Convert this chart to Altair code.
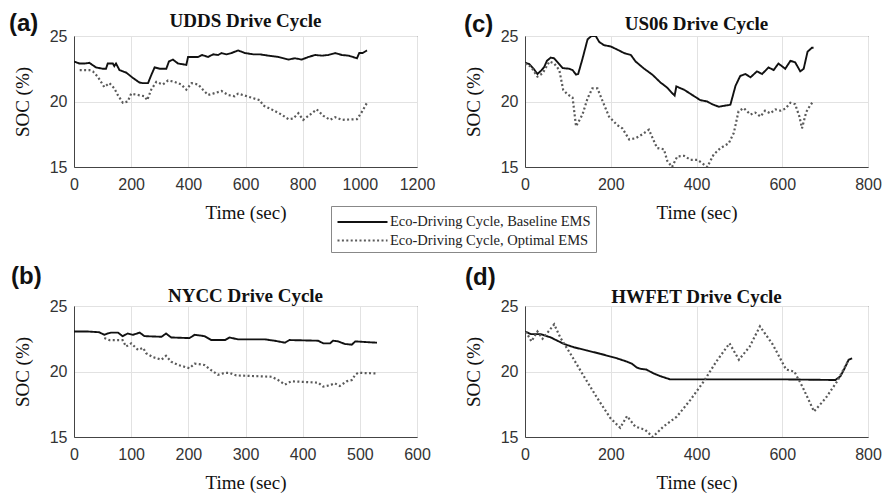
import altair as alt
import pandas as pd

SERIES = ["Eco-Driving Cycle, Baseline EMS", "Eco-Driving Cycle, Optimal EMS"]

# ---- UDDS ----
udds_base_t = [0, 19, 36, 54, 77, 101, 112, 118, 136, 141, 147, 159, 183, 206, 229, 241, 259, 270, 282, 300,
               323, 332, 346, 364, 393, 399, 422, 434, 448, 469, 487, 504, 516, 533, 551, 574, 598, 627, 650, 680,
               715, 750, 773, 797, 820, 844, 867, 890, 914, 937, 961, 990, 998, 1010, 1025]
udds_base_soc = [23.05, 22.9, 22.9, 22.95, 22.6, 22.5, 22.5, 22.9, 22.9, 22.7, 22.9, 22.4, 22.2, 21.8, 21.45,
                 21.4, 21.4, 22.0, 22.6, 22.5, 22.5, 23.05, 23.2, 22.9, 22.8, 23.4, 23.4, 23.4, 23.55, 23.4,
                 23.6, 23.55, 23.7, 23.6, 23.7, 23.9, 23.7, 23.6, 23.6, 23.5, 23.4, 23.2, 23.3, 23.2, 23.4,
                 23.55, 23.5, 23.55, 23.7, 23.55, 23.5, 23.3, 23.7, 23.7, 23.9]
udds_opt_t = [20, 54, 66, 83, 106, 124, 141, 153, 171, 188, 200, 223, 247, 256, 270, 288, 311, 329, 352, 375,
              393, 411, 434, 451, 469, 486, 516, 539, 562, 574, 598, 627, 650, 662, 691, 726, 750, 767, 785, 802,
              826, 849, 873, 896, 914, 937, 990, 1007, 1025]
udds_opt_soc = [22.4, 22.4, 22.3, 21.9, 21.1, 21.4, 21.0, 20.5, 19.9, 20.0, 20.6, 20.5, 20.4, 20.1, 20.9,
                21.5, 21.3, 21.6, 21.5, 21.3, 20.9, 21.4, 21.3, 20.9, 20.5, 20.6, 20.8, 20.5, 20.4, 20.6,
                20.45, 20.25, 20.1, 19.7, 19.4, 19.0, 18.65, 18.7, 19.1, 18.6, 19.0, 19.4, 18.9, 18.6, 18.8,
                18.6, 18.65, 19.2, 19.9]

# ---- US06 ----
us06_base_t = [0, 10, 20, 29, 39, 45, 51, 60, 68, 80, 88, 103, 111, 119, 124, 134, 146, 155, 165, 173,
               184, 200, 216, 231, 247, 258, 278, 297, 316, 332, 343, 349, 353, 371, 390, 409, 425, 436, 452, 460,
               479, 491, 502, 514, 526, 541, 553, 568, 580, 591, 607, 619, 630, 642, 650, 659, 669, 673]
us06_base_soc = [22.97, 22.85, 22.5, 22.1, 22.4, 22.65, 23.1, 23.35, 23.3, 22.85, 22.55, 22.5, 22.4, 22.05, 22.1,
                 23.25, 24.75, 25.0, 25.0, 24.55, 24.3, 24.2, 23.95, 23.7, 23.55, 23.05, 22.5, 22.05, 21.45, 21.05,
                 20.65, 20.45, 21.15, 20.9, 20.5, 20.1, 20.0, 19.8, 19.6, 19.65, 19.75, 21.2, 21.95, 22.1, 21.85,
                 22.3, 22.1, 22.6, 22.4, 22.9, 22.5, 23.1, 23.0, 22.3, 22.5, 23.8, 24.1, 24.1]
us06_opt_t = [0, 14, 29, 41, 57, 68, 80, 89, 99, 111, 119, 134, 146, 157, 169, 180, 196, 215, 227, 243,
              258, 274, 289, 299, 308, 324, 332, 343, 355, 371, 386, 402, 413, 425, 440, 456, 475, 487, 498, 510,
              526, 537, 549, 560, 572, 584, 596, 607, 619, 630, 640, 646, 656, 665, 671]
us06_opt_soc = [22.9, 22.65, 21.9, 22.15, 23.05, 22.9, 22.4, 20.9, 20.55, 20.3, 18.1, 19.0, 20.25, 21.0, 21.0,
                20.1, 18.85, 18.2, 17.95, 17.1, 17.2, 17.5, 17.85, 17.1, 16.45, 16.35, 15.45, 15.0, 15.8, 15.85,
                15.55, 15.55, 15.3, 15.0, 15.95, 16.45, 16.8, 17.6, 19.25, 19.5, 19.0, 19.15, 18.85, 19.3, 19.1,
                19.4, 19.3, 19.45, 19.9, 19.8, 18.85, 17.95, 19.2, 19.7, 19.95]

# ---- NYCC ----
nycc_base_t = [0, 24, 44, 53, 59, 65, 77, 85, 94, 103, 115, 123, 153, 161, 170, 202, 211, 228, 240, 264,
               272, 287, 334, 351, 369, 377, 427, 436, 448, 453, 462, 474, 486, 492, 509, 530]
nycc_base_soc = [23.05, 23.05, 23.0, 22.8, 22.9, 22.97, 22.97, 22.7, 22.9, 22.8, 22.97, 22.7, 22.65, 22.9, 22.6,
                 22.55, 22.8, 22.7, 22.4, 22.4, 22.6, 22.45, 22.45, 22.35, 22.2, 22.4, 22.35, 22.15, 22.15, 22.35,
                 22.3, 22.1, 22.05, 22.3, 22.25, 22.2]
nycc_opt_t = [53, 62, 85, 91, 100, 112, 121, 126, 138, 153, 161, 170, 182, 202, 211, 228, 240, 252, 264, 272,
              284, 346, 357, 369, 380, 427, 436, 448, 456, 465, 477, 486, 492, 497, 530]
nycc_opt_soc = [22.55, 22.4, 22.4, 21.9, 22.15, 21.65, 21.8, 21.4, 21.1, 20.9, 21.2, 20.75, 20.5, 20.25, 20.6,
                20.5, 20.1, 19.75, 19.9, 19.9, 19.7, 19.6, 19.35, 19.0, 19.25, 19.15, 18.85, 18.95, 19.1, 18.9,
                19.25, 19.35, 19.75, 19.9, 19.85]

# ---- HWFET ----
hwfet_base_t = [0, 14, 37, 60, 91, 114, 145, 176, 215, 238, 249, 261, 270, 283, 300, 315, 334, 338, 454, 531,
                601, 724, 736, 744, 755, 763]
hwfet_base_soc = [23.05, 22.85, 22.85, 22.6, 22.1, 21.85, 21.6, 21.35, 21.0, 20.75, 20.6, 20.3, 20.2, 20.15,
                  19.85, 19.65, 19.45, 19.4, 19.4, 19.4, 19.4, 19.35, 19.65, 20.15, 20.9, 21.0]
hwfet_opt_t = [2, 15, 29, 41, 51, 68, 83, 107, 137, 168, 199, 222, 238, 257, 280, 298, 323, 354, 385, 416,
               446, 477, 499, 524, 548, 578, 609, 628, 647, 674, 701, 728, 755]
hwfet_opt_soc = [23.05, 22.3, 23.05, 22.5, 22.9, 23.6, 22.55, 21.3, 19.65, 18.0, 16.45, 15.7, 16.6, 15.8, 15.55,
                 15.0, 15.8, 16.55, 17.8, 19.2, 20.75, 22.15, 20.9, 21.9, 23.45, 22.05, 20.15, 20.0, 18.85, 16.95,
                 17.95, 19.25, 20.9]

W, H = 343, 131
SERIF = "Liberation Serif"
SANS = "Liberation Sans"


def make_df(bt, bs, ot, os_):
    a = pd.DataFrame({"t": bt, "soc": bs, "series": SERIES[0]})
    b = pd.DataFrame({"t": ot, "soc": os_, "series": SERIES[1]})
    return pd.concat([a, b], ignore_index=True)


def panel(df, label, title, xmax, xstep, title_off, lab_x, lab_y, with_legend):
    if with_legend:
        leg = alt.Legend(
            title=None, orient="none", legendX=257, legendY=170, direction="vertical",
            fillColor="white", strokeColor="#888888", padding=5, cornerRadius=0,
            labelFont=SERIF, labelFontSize=14.5, labelColor="#222222", labelLimit=400,
            symbolType="M-2.5,0H2.5", symbolSize=400, symbolOffset=15, labelOffset=16,
            rowPadding=0,
        )
        extra = dict(legend=leg)
    else:
        extra = dict(legend=None)
    xaxis = alt.Axis(values=list(range(0, xmax + 1, xstep)), title="Time (sec)", format="d",
                     titleFont=SERIF, titleFontSize=19, titleFontWeight="normal", titleColor="#111111",
                     labelFont=SANS, labelFontSize=16, labelColor="#333333",
                     labelPadding=9, titlePadding=11)
    yaxis = alt.Axis(values=[15, 20, 25], title="SOC (%)", format="d",
                     titleFont=SERIF, titleFontSize=19, titleFontWeight="normal", titleColor="#111111",
                     labelFont=SANS, labelFontSize=16, labelColor="#333333",
                     labelPadding=7, titlePadding=17)
    lines = alt.Chart(df).mark_line(clip=True).encode(
        x=alt.X("t:Q", scale=alt.Scale(domain=[0, xmax], nice=False), axis=xaxis),
        y=alt.Y("soc:Q", scale=alt.Scale(domain=[15, 25], nice=False), axis=yaxis),
        color=alt.Color("series:N", scale=alt.Scale(domain=SERIES, range=["#111111", "#5a5a5a"]), **extra),
        strokeDash=alt.StrokeDash("series:N", scale=alt.Scale(domain=SERIES, range=[[1, 0], [2, 2.4]]), **extra),
        strokeWidth=alt.StrokeWidth("series:N", scale=alt.Scale(domain=SERIES, range=[1.9, 2.2]), **extra),
    )
    lab = alt.Chart(pd.DataFrame({"lab": [label]})).mark_text(
        align="left", baseline="alphabetic", font=SANS, fontSize=24, fontWeight="bold", color="#111111"
    ).encode(text="lab:N", x=alt.value(lab_x), y=alt.value(lab_y))
    ttl = alt.Chart(pd.DataFrame({"ttl": [title]})).mark_text(
        align="center", baseline="alphabetic", font=SERIF, fontSize=19, fontWeight="bold", color="#111111"
    ).encode(text="ttl:N", x=alt.value(W / 2), y=alt.value(-title_off))
    return alt.layer(lines, lab, ttl).properties(width=W, height=H)


pa = panel(make_df(udds_base_t, udds_base_soc, udds_opt_t, udds_opt_soc), "(a)", "UDDS Drive Cycle",
           1200, 200, 9, -65, -5, True)
pc = panel(make_df(us06_base_t, us06_base_soc, us06_opt_t, us06_opt_soc), "(c)", "US06 Drive Cycle",
           800, 200, 6, -61, -4, False)
pb = panel(make_df(nycc_base_t, nycc_base_soc, nycc_opt_t, nycc_opt_soc), "(b)", "NYCC Drive Cycle",
           600, 100, 4, -63, -22, False)
pd_ = panel(make_df(hwfet_base_t, hwfet_base_soc, hwfet_opt_t, hwfet_opt_soc), "(d)", "HWFET Drive Cycle",
            800, 200, 3, -60, -21, False)

chart = alt.concat(
    pa, pc, pb, pd_, columns=2, spacing={"row": 139, "column": 108}, bounds="flush"
).resolve_legend(
    color="independent", strokeDash="independent", strokeWidth="independent"
).properties(
    padding={"left": 8, "top": 11, "right": 0, "bottom": 0}, background="white"
).configure_view(
    stroke="#444444", strokeWidth=1
).configure_axis(
    labelFlush=False, labelOverlap=False,
    grid=True, gridColor="#e2e2e2", gridWidth=1, domainColor="#444444", ticks=False, tickSize=0,
)

chart.save("out.html", embed_options={"renderer": "svg", "actions": False})
